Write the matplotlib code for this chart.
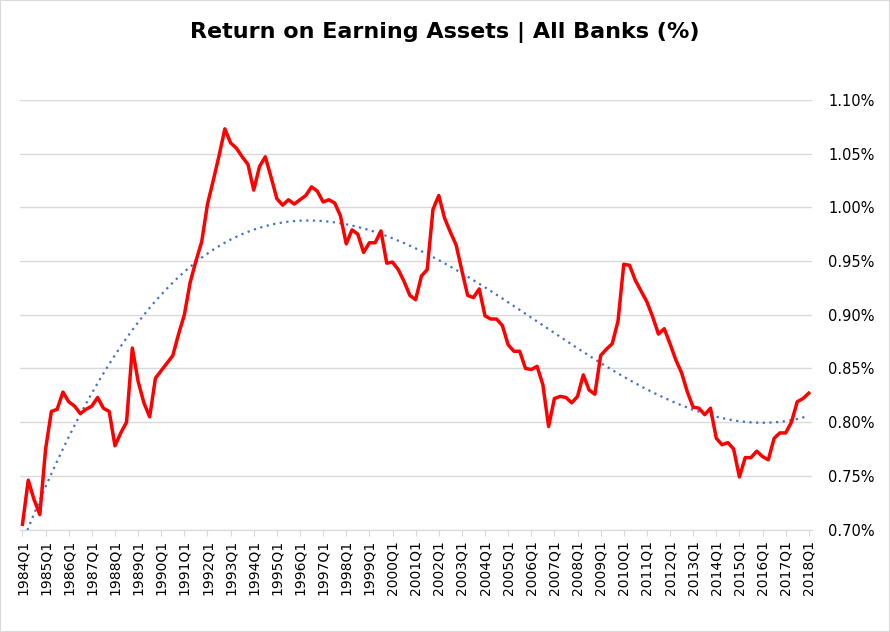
import numpy as np
import matplotlib
matplotlib.use("Agg")
import matplotlib.pyplot as plt
from matplotlib.ticker import FuncFormatter

years = list(range(1984, 2019))
values = [
    0.705, 0.746, 0.728, 0.714,
    0.775, 0.810, 0.812, 0.828,
    0.819, 0.815, 0.808, 0.812,
    0.815, 0.823, 0.813, 0.810,
    0.778, 0.790, 0.800, 0.869,
    0.838, 0.818, 0.805, 0.841,
    0.848, 0.855, 0.862, 0.882,
    0.900, 0.930, 0.950, 0.968,
    1.003, 1.025, 1.048, 1.073,
    1.060, 1.055, 1.047, 1.040,
    1.016, 1.038, 1.047, 1.028,
    1.008, 1.002, 1.007, 1.003,
    1.007, 1.011, 1.019, 1.015,
    1.005, 1.007, 1.004, 0.992,
    0.966, 0.979, 0.975, 0.958,
    0.967, 0.967, 0.978, 0.948,
    0.949, 0.942, 0.931, 0.918,
    0.914, 0.936, 0.942, 0.998,
    1.011, 0.990, 0.977, 0.965,
    0.941, 0.918, 0.916, 0.924,
    0.899, 0.896, 0.896, 0.890,
    0.872, 0.866, 0.866, 0.850,
    0.849, 0.852, 0.835, 0.796,
    0.822, 0.824, 0.823, 0.818,
    0.824, 0.844, 0.830, 0.826,
    0.862, 0.868, 0.873, 0.894,
    0.947, 0.946, 0.932, 0.922,
    0.912, 0.898, 0.882, 0.887,
    0.873, 0.858, 0.846, 0.828,
    0.814, 0.813, 0.807, 0.813,
    0.785, 0.779, 0.781, 0.775,
    0.749, 0.767, 0.767, 0.773,
    0.768, 0.765, 0.785, 0.790,
    0.790, 0.800, 0.819, 0.822,
    0.827,
]
labels = [f"{y}Q{q}" for y in years for q in range(1, 5)][:len(values)]
yticks = [0.70, 0.75, 0.80, 0.85, 0.90, 0.95, 1.00, 1.05, 1.10]

x = np.arange(len(values))
coef = np.polyfit(x, values, 4)
trend = np.polyval(coef, x)

fig = plt.figure(figsize=(8.9, 6.32), dpi=100)
ax = fig.add_axes([0.022, 0.162, 0.89, 0.68])
ax.plot(x, values, color="#ff0000", lw=2.5, zorder=3)
ax.plot(x, trend, color="#4472c4", lw=1.6, ls=(0, (1, 2)), zorder=2)
ax.set_ylim(0.70, 1.10)
ax.set_xlim(-0.5, len(values) - 0.5)
ax.set_yticks(yticks)
ax.yaxis.set_major_formatter(FuncFormatter(lambda v, p: f"{v:.2f}%"))
ax.yaxis.tick_right()
ax.grid(axis="y", color="#d9d9d9", lw=1)
ax.set_axisbelow(True)
ax.set_xticks(x[::4])
ax.set_xticklabels(labels[::4], rotation=90, fontsize=10)
ax.tick_params(axis="y", length=0, labelsize=10.5, pad=12)
ax.tick_params(axis="x", length=4, color="#d9d9d9")
for s in ["top", "left", "right"]:
    ax.spines[s].set_visible(False)
ax.spines["bottom"].set_color("#d9d9d9")
fig.suptitle("Return on Earning Assets | All Banks (%)", fontsize=16, fontweight="bold", y=0.965)
fig.patches.append(plt.Rectangle((0, 0), 1, 1, transform=fig.transFigure, fill=False, edgecolor="#d9d9d9", lw=1.5))
fig.savefig("out.png", dpi=100)
